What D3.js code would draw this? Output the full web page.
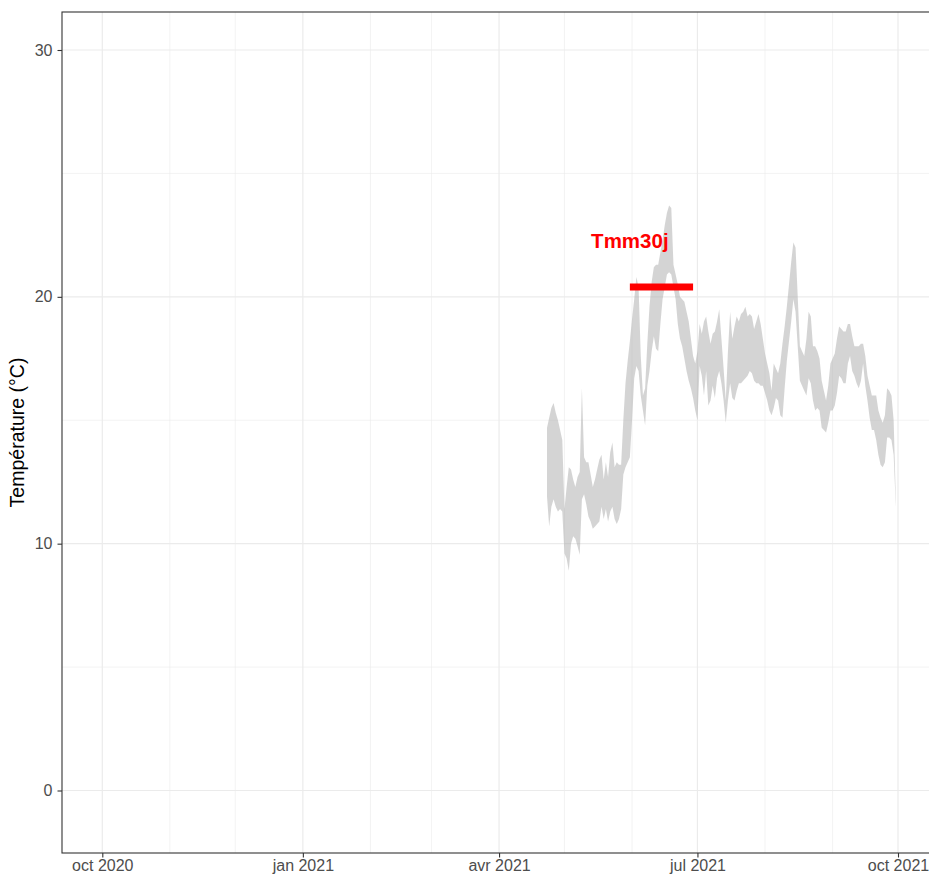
<!DOCTYPE html>
<html><head><meta charset="utf-8">
<script src="https://cdn.jsdelivr.net/npm/d3@7"></script>
<style>
html,body{margin:0;padding:0;background:#fff;overflow:hidden}
svg{display:block;font-family:"Liberation Sans",Arial,sans-serif}
</style></head><body>
<svg id="c" width="929" height="879"></svg>
<script>
// ---- data ----
const startDate = "2021-04-23"; // first daily value, then one value per day until 2021-09-30
const tmax = [
 14.7,15.1,15.5,15.7,15.3,15.0,14.6,14.2,
 11.4,12.3,13.1,13.0,12.6,12.3,12.7,12.9,16.3,13.5,13.3,13.3,12.8,12.3,12.6,13.0,13.4,13.6,12.6,13.3,12.7,13.7,14.1,13.1,13.3,13.2,13.2,15.0,16.5,17.4,18.2,
 19.1,19.9,20.8,20.4,17.6,16.0,16.3,18.1,19.6,20.6,21.2,21.3,21.3,21.8,22.3,22.9,23.4,23.7,23.6,21.3,20.9,20.5,20.0,19.9,19.8,19.4,19.0,18.3,17.6,17.3,
 17.8,18.9,18.5,19.0,19.2,18.6,18.1,18.5,18.6,19.0,19.5,18.3,17.1,15.8,17.8,19.4,18.3,18.8,19.2,19.0,19.3,19.4,19.6,19.2,19.3,19.2,18.7,19.0,19.3,18.9,18.3,
 17.7,17.3,16.9,16.2,17.3,17.1,16.9,17.3,18.1,18.8,19.6,20.5,21.4,22.2,22.0,20.0,18.0,17.8,17.6,18.3,19.4,19.2,18.0,18.0,17.8,17.5,16.6,16.2,15.8,16.4,17.3,
 17.5,17.7,18.3,18.8,18.7,18.6,18.6,18.9,18.9,18.4,18.0,18.0,18.0,18.1,18.1,17.6,16.8,16.4,16.0,16.0,16.0,15.4,15.1,14.9,15.2,16.3,16.2,16.0,15.0,11.8
];
const tmin = [
 11.9,10.7,11.5,11.8,11.5,11.3,11.4,11.3,
 9.6,9.4,8.9,10.0,10.3,10.2,9.9,9.55,11.8,12.0,11.6,11.1,10.9,10.6,10.7,10.8,10.9,11.5,11.0,11.4,10.9,11.3,11.5,11.0,10.8,11.0,11.4,12.8,13.1,13.3,13.5,
 15.0,16.7,17.2,17.0,16.0,15.4,14.8,16.4,17.0,17.8,18.4,17.9,17.8,18.9,19.9,20.4,20.9,21.0,20.9,20.4,19.9,18.9,18.3,18.0,17.5,17.0,16.6,16.3,15.9,15.4,
 15.0,17.2,16.8,16.0,17.0,15.6,15.8,16.4,15.9,16.7,17.0,16.5,15.8,14.9,15.8,16.5,15.9,15.8,16.2,16.5,16.5,16.6,16.7,16.8,17.0,16.9,16.6,16.5,16.5,16.4,16.4,
 16.1,15.8,15.4,15.2,15.5,15.9,15.8,15.2,15.1,16.3,17.4,18.2,19.0,19.9,19.4,18.0,16.6,16.4,16.2,16.0,16.7,16.5,15.8,15.4,15.5,15.4,14.7,14.6,14.5,14.9,15.4,
 15.4,15.6,16.1,16.8,16.7,16.5,16.5,17.3,17.6,17.0,16.8,16.5,16.3,16.6,17.3,16.4,15.8,15.1,14.6,14.6,14.2,13.6,13.2,13.1,13.3,14.3,14.3,14.2,13.6,11.5
];
const refLabel = "Tmm30j";
const refValue = 20.4;
const refStart = "2021-05-31", refEnd = "2021-06-29";
const labelValue = 22.3;
const xTickDates = ["2020-10-01","2021-01-01","2021-04-01","2021-07-01","2021-10-01"];
const xTickLabels = ["oct 2020","jan 2021","avr 2021","jul 2021","oct 2021"];
const yTicks = [0,10,20,30];
const yMinor = [5,15,25];
const yTitle = "Température (°C)";

// ---- layout ----
const svg = d3.select("#c");
const P = {left:62, top:12, bottom:853, right:960};
const parse = d3.utcParse("%Y-%m-%d");
const x = d3.scaleUtc().domain([parse("2020-10-01"), parse("2021-10-01")]).range([102.3, 898]);
const y = d3.scaleLinear().domain([0,30]).range([790.5, 50]);

const s0 = parse(startDate);
const data = tmax.map((v,i)=>({d:d3.utcDay.offset(s0,i), hi:v, lo:tmin[i]}));

// grid
const g = svg.append("g");
const xMinorDates = d3.utcMonth.range(parse("2020-09-01"), parse("2021-11-01"))
  .filter(d=>!xTickDates.includes(d3.utcFormat("%Y-%m-%d")(d)));
g.selectAll(".ymn").data(yMinor).join("line")
  .attr("x1",P.left).attr("x2",P.right).attr("y1",d=>y(d)).attr("y2",d=>y(d))
  .attr("stroke","#ebebeb").attr("stroke-width",0.6);
g.selectAll(".xmn").data(xMinorDates.filter(d=>x(d)>P.left)).join("line")
  .attr("y1",P.top).attr("y2",P.bottom).attr("x1",d=>x(d)).attr("x2",d=>x(d))
  .attr("stroke","#ebebeb").attr("stroke-width",0.6);
g.selectAll(".ymj").data(yTicks).join("line")
  .attr("x1",P.left).attr("x2",P.right).attr("y1",d=>y(d)).attr("y2",d=>y(d))
  .attr("stroke","#ebebeb").attr("stroke-width",1.2);
g.selectAll(".xmj").data(xTickDates.map(parse)).join("line")
  .attr("y1",P.top).attr("y2",P.bottom).attr("x1",d=>x(d)).attr("x2",d=>x(d))
  .attr("stroke","#ebebeb").attr("stroke-width",1.2);

// band
const area = d3.area().x(d=>x(d.d)).y0(d=>y(d.lo)).y1(d=>y(d.hi));
svg.append("path").datum(data).attr("d",area)
  .attr("fill","#a9a9a9").attr("fill-opacity",0.5);

// reference segment + label
svg.append("line")
  .attr("x1",x(parse(refStart))).attr("x2",x(parse(refEnd)))
  .attr("y1",y(refValue)).attr("y2",y(refValue))
  .attr("stroke","#ff0000").attr("stroke-width",7);
svg.append("text").attr("x",x(parse(refStart))).attr("y",y(labelValue)+8)
  .attr("text-anchor","middle").attr("fill","#ff0000")
  .attr("font-weight","bold").attr("font-size","20.5px").text(refLabel);

// panel border
svg.append("rect").attr("x",P.left).attr("y",P.top)
  .attr("width",P.right-P.left).attr("height",P.bottom-P.top)
  .attr("fill","none").attr("stroke","#333").attr("stroke-width",1.1);

// axes
const xa = svg.append("g").attr("transform",`translate(0,${P.bottom})`)
  .call(d3.axisBottom(x).tickValues(xTickDates.map(parse))
    .tickFormat((d,i)=>xTickLabels[i]).tickSize(4.5).tickSizeOuter(0));
xa.select(".domain").remove();
xa.selectAll(".tick line").attr("stroke","#333").attr("stroke-width",1.1);
xa.selectAll(".tick text").attr("fill","#4d4d4d").attr("font-size","16px")
  .attr("font-family","Liberation Sans, Arial, sans-serif").attr("dy","0.71em").attr("y",7);

const ya = svg.append("g").attr("transform",`translate(${P.left},0)`)
  .call(d3.axisLeft(y).tickValues(yTicks).tickSize(4.5).tickSizeOuter(0));
ya.select(".domain").remove();
ya.selectAll(".tick line").attr("stroke","#333").attr("stroke-width",1.1);
ya.selectAll(".tick text").attr("fill","#4d4d4d").attr("font-size","16px")
  .attr("font-family","Liberation Sans, Arial, sans-serif").attr("x",-9.5);

svg.append("text").attr("transform",`translate(24,${(P.top+P.bottom)/2}) rotate(-90)`)
  .attr("text-anchor","middle").attr("font-size","19.5px").attr("fill","#000").text(yTitle);
</script>
</body></html>
